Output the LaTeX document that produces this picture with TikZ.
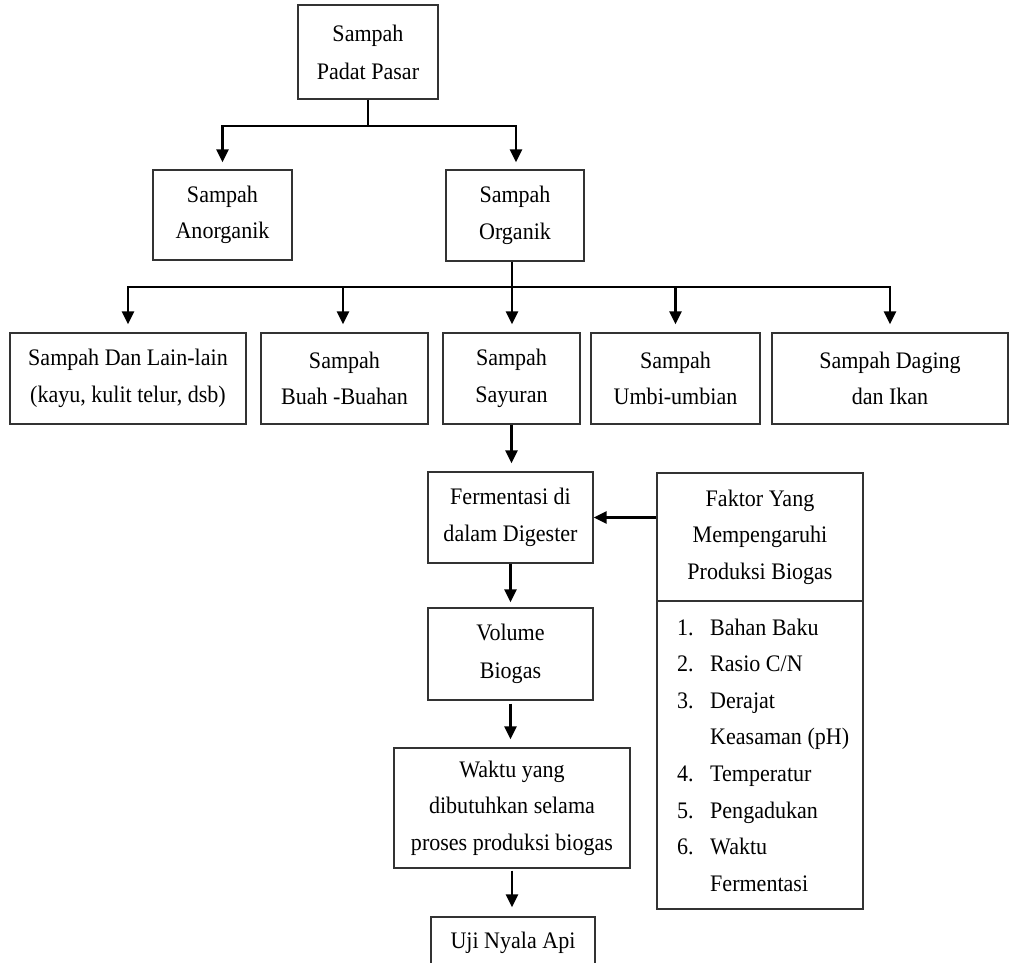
\documentclass[tikz,border=0pt]{standalone}
\usepackage{fontspec}
\setmainfont{Liberation Serif}[FakeStretch=0.93]
\usetikzlibrary{arrows.meta}
\begin{document}
\begin{tikzpicture}[x=1pt,y=-1pt,
  box/.style={draw=black!80, line width=1.2pt, inner sep=0pt, align=center,
    font=\fontsize{23.7}{36.5}\selectfont},
  conn/.style={line width=2.6pt, -{Triangle[length=13pt,width=12pt]}},
  trunk/.style={line width=2.6pt},
  listtext/.style={inner sep=0pt, align=left, font=\fontsize{23.7}{36.6}\selectfont}]
\useasboundingbox (0,0) rectangle (1009,962);
\clip (0,0) rectangle (1009,962);

% nodes
\node[box, minimum width=140pt, minimum height=94pt] (top) at (368,52) {Sampah\\[1.5pt]Padat Pasar};
\node[box, minimum width=139pt, minimum height=90pt] (anorg) at (222.5,215) {Sampah\\Anorganik};
\node[box, minimum width=138pt, minimum height=91pt] (org) at (515,215.5) {Sampah\\Organik};

\node[box, minimum width=236pt, minimum height=91pt] (b1) at (128,378.5) {Sampah Dan Lain-lain\\(kayu, kulit telur, dsb)};
\node[box, minimum width=167pt, minimum height=91pt] (b2) at (344.5,378.5) {Sampah\\Buah -Buahan};
\node[box, minimum width=137pt, minimum height=91pt] (b3) at (511.5,378.5) {Sampah\\Sayuran};
\node[box, minimum width=169pt, minimum height=91pt] (b4) at (675.5,378.5) {Sampah\\Umbi-umbian};
\node[box, minimum width=236pt, minimum height=91pt] (b5) at (890,378.5) {Sampah Daging\\dan Ikan};

\node[box, minimum width=165pt, minimum height=91pt] (ferm) at (510.5,517.5) {Fermentasi di\\dalam Digester};
\node[box, minimum width=206pt, minimum height=128pt] (faktor) at (760,537) {Faktor Yang\\Mempengaruhi\\Produksi Biogas};
\node[box, minimum width=206pt, minimum height=308pt] (listbox) at (760,755) {};
\node[listtext, anchor=north west] (items) at (677,618.5) {%
\makebox[33pt][l]{1.}Bahan Baku\\
\makebox[33pt][l]{2.}Rasio C/N\\
\makebox[33pt][l]{3.}Derajat\\
\hspace*{33pt}Keasaman (pH)\\
\makebox[33pt][l]{4.}Temperatur\\
\makebox[33pt][l]{5.}Pengadukan\\
\makebox[33pt][l]{6.}Waktu\\
\hspace*{33pt}Fermentasi};

\node[box, minimum width=165pt, minimum height=92pt] (vol) at (510.5,654) {Volume\\[2pt]Biogas};
\node[box, minimum width=236pt, minimum height=120pt] (waktu) at (512,808) {Waktu yang\\dibutuhkan selama\\proses produksi biogas};
\node[box, minimum width=164pt, minimum height=52pt] (uji) at (513,943) {Uji Nyala Api};

% connectors
\coordinate (j1) at (368,126);
\draw[trunk] (top.south) -- (j1);
\draw[conn, shorten >=7pt] (j1) -| (anorg.north);
\draw[conn, shorten >=7pt] (j1) -| ([xshift=1pt]org.north);

\coordinate (j2) at (512,287);
\draw[trunk] ([xshift=-3pt]org.south) -- (j2);
\draw[conn, shorten >=8pt] (j2) -| (b1.north);
\draw[conn, shorten >=8pt] (j2) -| ([xshift=-1.5pt]b2.north);
\draw[conn, shorten >=8pt] (j2) -- (j2 |- b3.north);
\draw[conn, shorten >=8pt] (j2) -| (b4.north);
\draw[conn, shorten >=8pt] (j2) -| (b5.north);

\draw[conn, shorten >=8pt] (b3.south) -- (b3.south |- ferm.north);
\draw[conn] (faktor.west |- ferm.east) -- (ferm.east);
\draw[conn, shorten >=5pt] (ferm.south) -- (vol.north);
\draw[conn, shorten <=3pt, shorten >=8pt] (vol.south) -- (vol.south |- waktu.north);
\draw[conn, shorten <=2pt, shorten >=9pt] (waktu.south) -- (waktu.south |- uji.north);
\end{tikzpicture}
\end{document}
